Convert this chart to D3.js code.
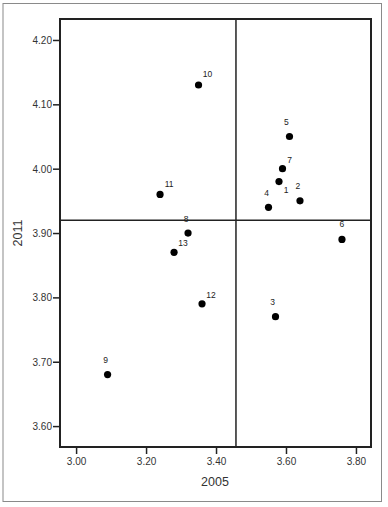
<!DOCTYPE html>
<html>
<head>
<meta charset="utf-8">
<script src="https://cdn.jsdelivr.net/npm/d3@7"></script>
<style>
  html, body { margin: 0; padding: 0; background: #fff; }
  svg { display: block; }
</style>
</head>
<body>
<svg id="chart" width="388" height="507"></svg>
<script>
// ---- data ----
const labels = ["1","2","3","4","5","6","7","8","9","10","11","12","13"];
const x2005  = [3.58, 3.64, 3.57, 3.55, 3.61, 3.76, 3.59, 3.32, 3.09, 3.35, 3.24, 3.36, 3.28];
const y2011  = [3.98, 3.95, 3.77, 3.94, 4.05, 3.89, 4.00, 3.90, 3.68, 4.13, 3.96, 3.79, 3.87];
const xTicks = [3.00, 3.20, 3.40, 3.60, 3.80];
const yTicks = [3.60, 3.70, 3.80, 3.90, 4.00, 4.10, 4.20];
const xRef = 3.457;   // mean reference line (2005)
const yRef = 3.92;    // mean reference line (2011)
const xTitle = "2005";
const yTitle = "2011";

(function () {
// ---- layout ----
const svg = d3.select("#chart");
const pL = 60, pR = 371, pT = 19, pB = 447;

const x = d3.scaleLinear().domain([2.954, 3.843]).range([pL, pR]);
const y = d3.scaleLinear().domain([3.5675, 4.2326]).range([pB, pT]);

// outer frame
svg.append("rect")
  .attr("x", 3).attr("y", 3.5).attr("width", 378.5).attr("height", 498)
  .attr("fill", "none").attr("stroke", "#8a8a8a").attr("stroke-width", 1);

const fontTick = "'Liberation Sans', Arial, sans-serif";

// axes
const yAxis = d3.axisLeft(y).tickValues(yTicks).tickFormat(d3.format(".2f")).tickSize(7).tickSizeOuter(0);
const xAxis = d3.axisBottom(x).tickValues(xTicks).tickFormat(d3.format(".2f")).tickSize(7).tickSizeOuter(0);

const gy = svg.append("g").attr("transform", `translate(${pL},0)`).call(yAxis);
const gx = svg.append("g").attr("transform", `translate(0,${pB})`).call(xAxis);
[gy, gx].forEach(g => {
  g.select(".domain").remove();
  g.selectAll(".tick line").attr("stroke", "#222").attr("stroke-width", 1.5);
  g.selectAll(".tick text").attr("fill", "#333").style("font-size", "10px").style("font-family", fontTick);
});
gy.selectAll(".tick text").attr("x", -8).attr("dy", "0.35em");
gx.selectAll(".tick text").attr("y", 11).attr("dy", "0.71em");

// reference lines
svg.append("line")
  .attr("x1", x(xRef)).attr("x2", x(xRef)).attr("y1", pT).attr("y2", pB)
  .attr("stroke", "#222").attr("stroke-width", 1.5);
svg.append("line")
  .attr("x1", pL).attr("x2", pR).attr("y1", y(yRef)).attr("y2", y(yRef))
  .attr("stroke", "#222").attr("stroke-width", 1.5);

// plot frame
svg.append("rect")
  .attr("x", pL).attr("y", pT).attr("width", pR - pL).attr("height", pB - pT)
  .attr("fill", "none").attr("stroke", "#222").attr("stroke-width", 2);

// points
const pts = labels.map((l, i) => ({ label: l, x: x2005[i], y: y2011[i] }));
svg.append("g").selectAll("circle").data(pts).join("circle")
  .attr("cx", d => x(d.x)).attr("cy", d => y(d.y)).attr("r", 3.6).attr("fill", "#000");

// label placement (pixel offsets from each point)
const labelOffset = {
  "1": [7, 11], "2": [-2, -12], "3": [-3, -12], "4": [-2, -11], "5": [-3, -12],
  "6": [0, -12], "7": [7, -6], "8": [-2, -11], "9": [-2, -12], "10": [9, -8],
  "11": [9, -7], "12": [9, -6], "13": [9, -6]
};
svg.append("g").selectAll("text").data(pts).join("text")
  .attr("x", d => x(d.x) + labelOffset[d.label][0])
  .attr("y", d => y(d.y) + labelOffset[d.label][1])
  .attr("text-anchor", "middle")
  .attr("fill", "#222")
  .style("font-size", "8.5px")
  .style("font-family", fontTick)
  .text(d => d.label);

// axis titles
svg.append("text")
  .attr("x", x(3.40) - 1).attr("y", 486)
  .attr("text-anchor", "middle").attr("fill", "#333")
  .style("font-size", "12.5px").style("font-family", fontTick)
  .text(xTitle);
svg.append("text")
  .attr("transform", `translate(22,${y(3.90)}) rotate(-90)`)
  .attr("text-anchor", "middle").attr("fill", "#333")
  .style("font-size", "12.5px").style("font-family", fontTick)
  .text(yTitle);
})();
</script>
</body>
</html>
